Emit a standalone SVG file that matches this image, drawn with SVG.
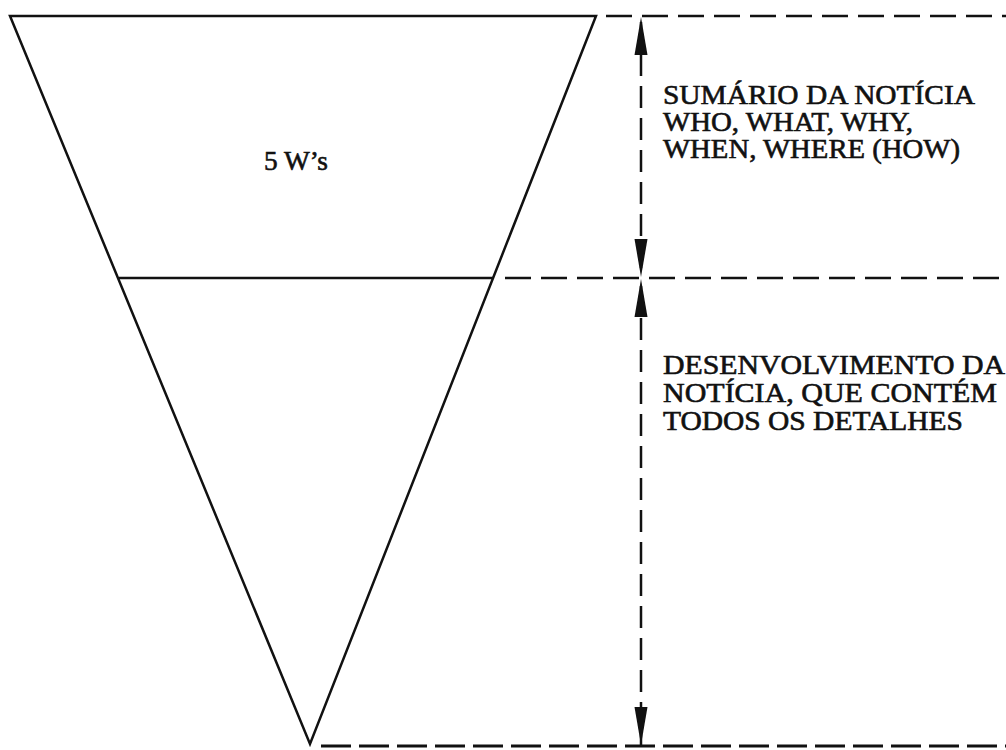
<svg xmlns="http://www.w3.org/2000/svg" width="1006" height="750" viewBox="0 0 1006 750">
<style>
.solid{stroke:#111;stroke-width:2.5;fill:none;stroke-linejoin:miter}
.dash{stroke:#111;stroke-width:2.5;fill:none;stroke-dasharray:26 10}
.dashb{stroke:#111;stroke-width:3;fill:none;stroke-dasharray:30 8}
.vdash{stroke:#111;stroke-width:2.5;fill:none;stroke-dasharray:22 10}
.t{font-family:"Liberation Serif","Times New Roman",serif;font-size:27px;fill:#111;stroke:#111;stroke-width:0.6}
</style>
<defs>
<marker id="arr" viewBox="0 0 38 14" refX="38" refY="7" markerWidth="38" markerHeight="14" markerUnits="userSpaceOnUse" orient="auto">
<path d="M0,0.5 L38,7 L0,13.5 Z" fill="#111"/>
</marker>
</defs>
<g id="funnel">
<path class="solid" d="M10,16 L596,16 L310,744 Z"/>
<line class="solid" x1="119" y1="278" x2="493" y2="278"/>
<text class="t" x="264" y="170" textLength="64" lengthAdjust="spacingAndGlyphs">5 W’s</text>
</g>
<g id="connectors">
<line class="dash" x1="606" y1="16" x2="1006" y2="16"/>
<line class="dash" x1="505" y1="278" x2="1006" y2="278"/>
<line class="dashb" x1="321" y1="746" x2="1006" y2="746"/>
<line class="vdash" x1="641" y1="140" x2="641" y2="17" marker-end="url(#arr)"/>
<line class="vdash" x1="641" y1="150" x2="641" y2="277" marker-end="url(#arr)"/>
<line class="vdash" x1="641" y1="500" x2="641" y2="279" marker-end="url(#arr)"/>
<line class="vdash" x1="641" y1="510" x2="641" y2="745" marker-end="url(#arr)"/>
</g>
<g id="summary">
<text class="t" x="663" y="104" textLength="312" lengthAdjust="spacingAndGlyphs">SUMÁRIO DA NOTÍCIA</text>
<text class="t" x="663" y="131" textLength="250" lengthAdjust="spacingAndGlyphs">WHO, WHAT, WHY,</text>
<text class="t" x="663" y="158" textLength="297" lengthAdjust="spacingAndGlyphs">WHEN, WHERE (HOW)</text>
</g>
<g id="development">
<text class="t" x="663" y="374" textLength="342" lengthAdjust="spacingAndGlyphs">DESENVOLVIMENTO DA</text>
<text class="t" x="663" y="402" textLength="334" lengthAdjust="spacingAndGlyphs">NOTÍCIA, QUE CONTÉM</text>
<text class="t" x="663" y="430" textLength="300" lengthAdjust="spacingAndGlyphs">TODOS OS DETALHES</text>
</g>
</svg>
